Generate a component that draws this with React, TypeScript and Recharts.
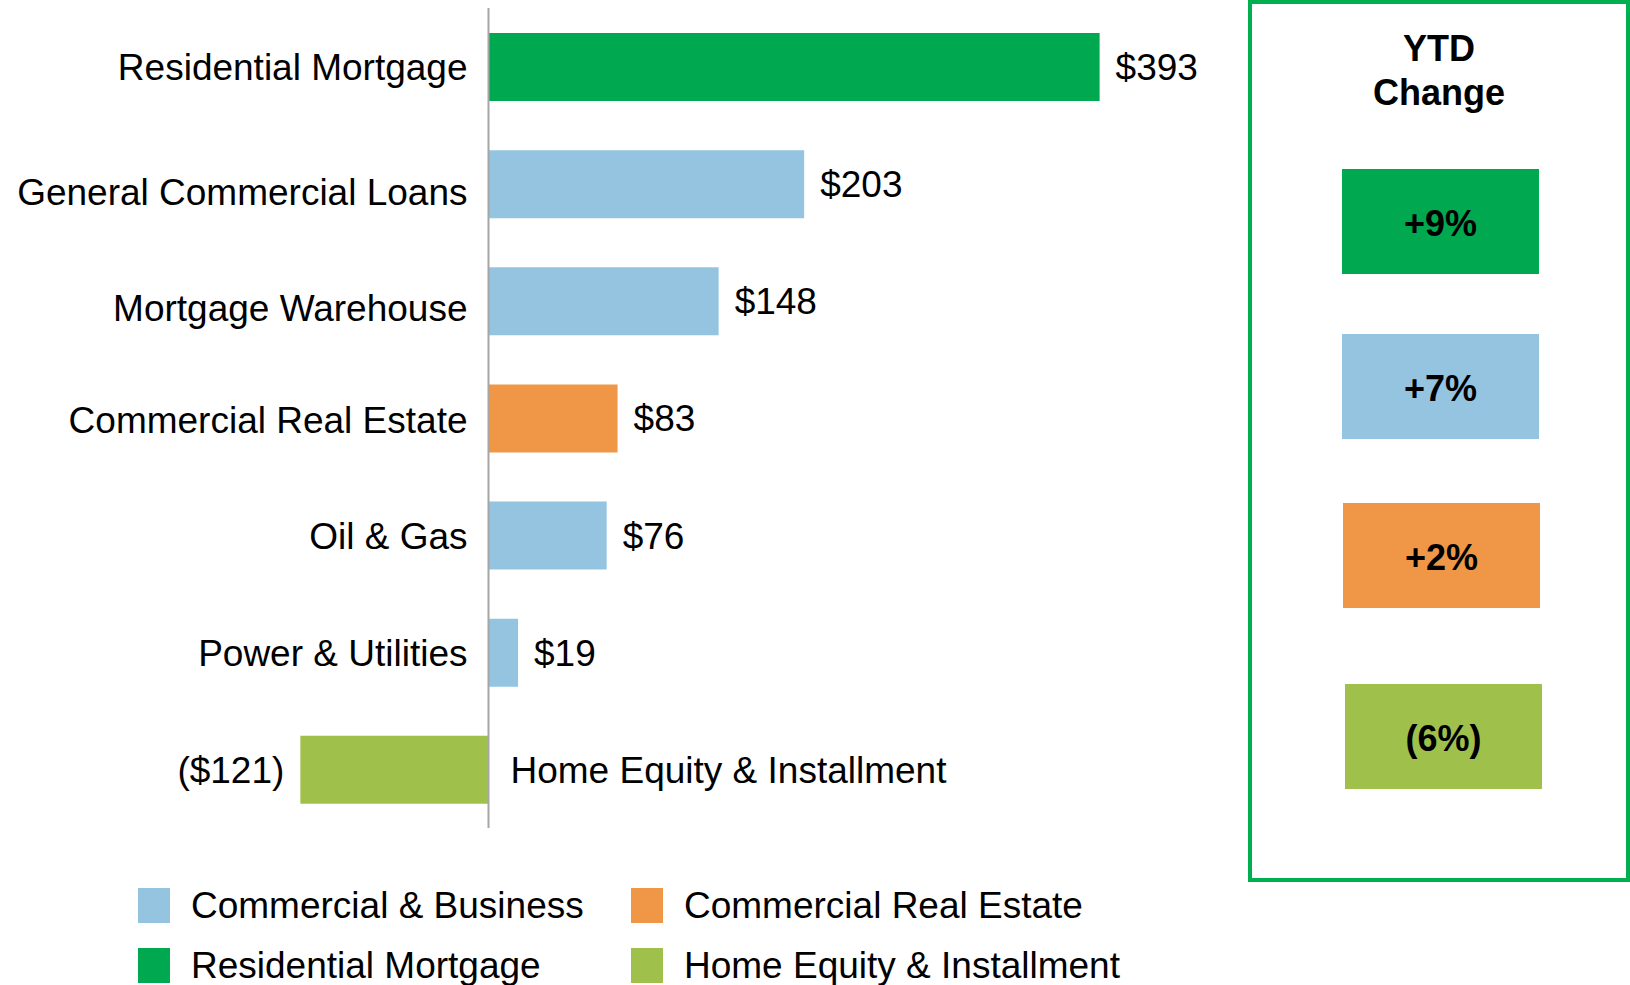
import React from "react";
import { BarChart, Bar, XAxis, YAxis, Cell, LabelList, ReferenceLine } from "recharts";

const FONT = '"Liberation Sans", Arial, sans-serif';

// loan categories, top to bottom
const categories = [
  "Residential Mortgage",
  "General Commercial Loans",
  "Mortgage Warehouse",
  "Commercial Real Estate",
  "Oil & Gas",
  "Power & Utilities",
  "Home Equity & Installment",
];
// YTD change in $ millions
const changes = [393, 203, 148, 83, 76, 19, -121];
const groupOf = ["resi", "cb", "cb", "cre", "cb", "cb", "he"];

const groupColors: Record<string, string> = {
  cb: "#95C4E0",
  cre: "#EF9747",
  resi: "#00A850",
  he: "#A0C04C",
};

const legendNames = [
  "Commercial & Business",
  "Commercial Real Estate",
  "Residential Mortgage",
  "Home Equity & Installment",
];
const legendGroups = ["cb", "cre", "resi", "he"];

const ytdLabels = ["+9%", "+7%", "+2%", "(6%)"];
const ytdGroups = ["resi", "cb", "cre", "he"];

const data = categories.map((name, i) => ({ name, value: changes[i], group: groupOf[i] }));

// the original's category text boxes sit a little off the bar centres
const NAME_NUDGE: Record<string, number> = {
  "General Commercial Loans": 8,
  "Mortgage Warehouse": 7,
  "Commercial Real Estate": 2,
};

function fmtMoney(v: number) {
  return v < 0 ? `($${-v})` : `$${v}`;
}

function box(p: any) {
  const vb = p.viewBox || {};
  const x = Number(p.x ?? vb.x);
  const y = Number(p.y ?? vb.y);
  const w = Number(p.width ?? vb.width);
  const h = Number(p.height ?? vb.height);
  return { left: Math.min(x, x + w), right: Math.max(x, x + w), cy: y + h / 2 };
}

function NameLabel(p: any) {
  const { left, right, cy } = box(p);
  const row = data.find((d) => d.name === p.value);
  const neg = row ? row.value < 0 : false;
  return (
    <text
      x={neg ? right + 22 : left - 21}
      y={cy + 13 + (NAME_NUDGE[p.value] || 0)}
      textAnchor={neg ? "start" : "end"}
      fontFamily={FONT}
      fontSize={37}
      fill="#000"
    >
      {p.value}
    </text>
  );
}

function ValueLabel(p: any) {
  const { left, right, cy } = box(p);
  const v = Number(p.value);
  return (
    <text
      x={v < 0 ? left - 16 : right + 16}
      y={cy + 13}
      textAnchor={v < 0 ? "end" : "start"}
      fontFamily={FONT}
      fontSize={37}
      fill="#000"
    >
      {fmtMoney(v)}
    </text>
  );
}

export default function App() {
  return (
    <div
      style={{
        position: "absolute",
        left: 0,
        top: 0,
        width: 1630,
        height: 985,
        overflow: "hidden",
        background: "#fff",
        fontFamily: FONT,
      }}
    >
      <BarChart
        width={1630}
        height={985}
        layout="vertical"
        data={data}
        margin={{ top: 8, right: 364, bottom: 157, left: 22 }}
      >
        <XAxis type="number" domain={[-300, 500]} allowDataOverflow hide />
        <YAxis type="category" dataKey="name" hide />
        <Bar dataKey="value" barSize={68} isAnimationActive={false}>
          {data.map((d) => (
            <Cell key={d.name} fill={groupColors[d.group]} />
          ))}
          <LabelList dataKey="name" content={NameLabel} />
          <LabelList dataKey="value" content={ValueLabel} />
        </Bar>
        <ReferenceLine x={0} stroke="#A6A6A6" strokeWidth={2} />
      </BarChart>

      {/* legend, 2 columns */}
      {legendNames.map((name, i) => {
        const col = i % 2;
        const row = Math.floor(i / 2);
        return (
          <div
            key={name}
            style={{
              position: "absolute",
              left: col === 0 ? 138 : 631,
              top: 888 + row * 60,
              height: 35,
              display: "flex",
              alignItems: "center",
              whiteSpace: "nowrap",
            }}
          >
            <div style={{ width: 32, height: 35, background: groupColors[legendGroups[i]] }} />
            <span style={{ marginLeft: 21, fontSize: 37, color: "#000" }}>{name}</span>
          </div>
        );
      })}

      {/* YTD change panel */}
      <div
        style={{
          position: "absolute",
          left: 1248,
          top: 0,
          width: 382,
          height: 882,
          boxSizing: "border-box",
          border: "4px solid #00B050",
        }}
      />
      <div
        style={{
          position: "absolute",
          left: 1248,
          top: 27,
          width: 382,
          textAlign: "center",
          fontWeight: "bold",
          fontSize: 36,
          lineHeight: "44px",
          color: "#000",
        }}
      >
        YTD
        <br />
        Change
      </div>
      {ytdLabels.map((lab, i) => (
        <div
          key={lab}
          style={{
            position: "absolute",
            left: [1342, 1342, 1343, 1345][i],
            top: [169, 334, 503, 684][i],
            width: 197,
            height: 105,
            boxSizing: "border-box",
            paddingTop: 4,
            background: groupColors[ytdGroups[i]],
            display: "flex",
            alignItems: "center",
            justifyContent: "center",
            fontWeight: "bold",
            fontSize: 36,
            color: "#000",
          }}
        >
          {lab}
        </div>
      ))}
    </div>
  );
}
